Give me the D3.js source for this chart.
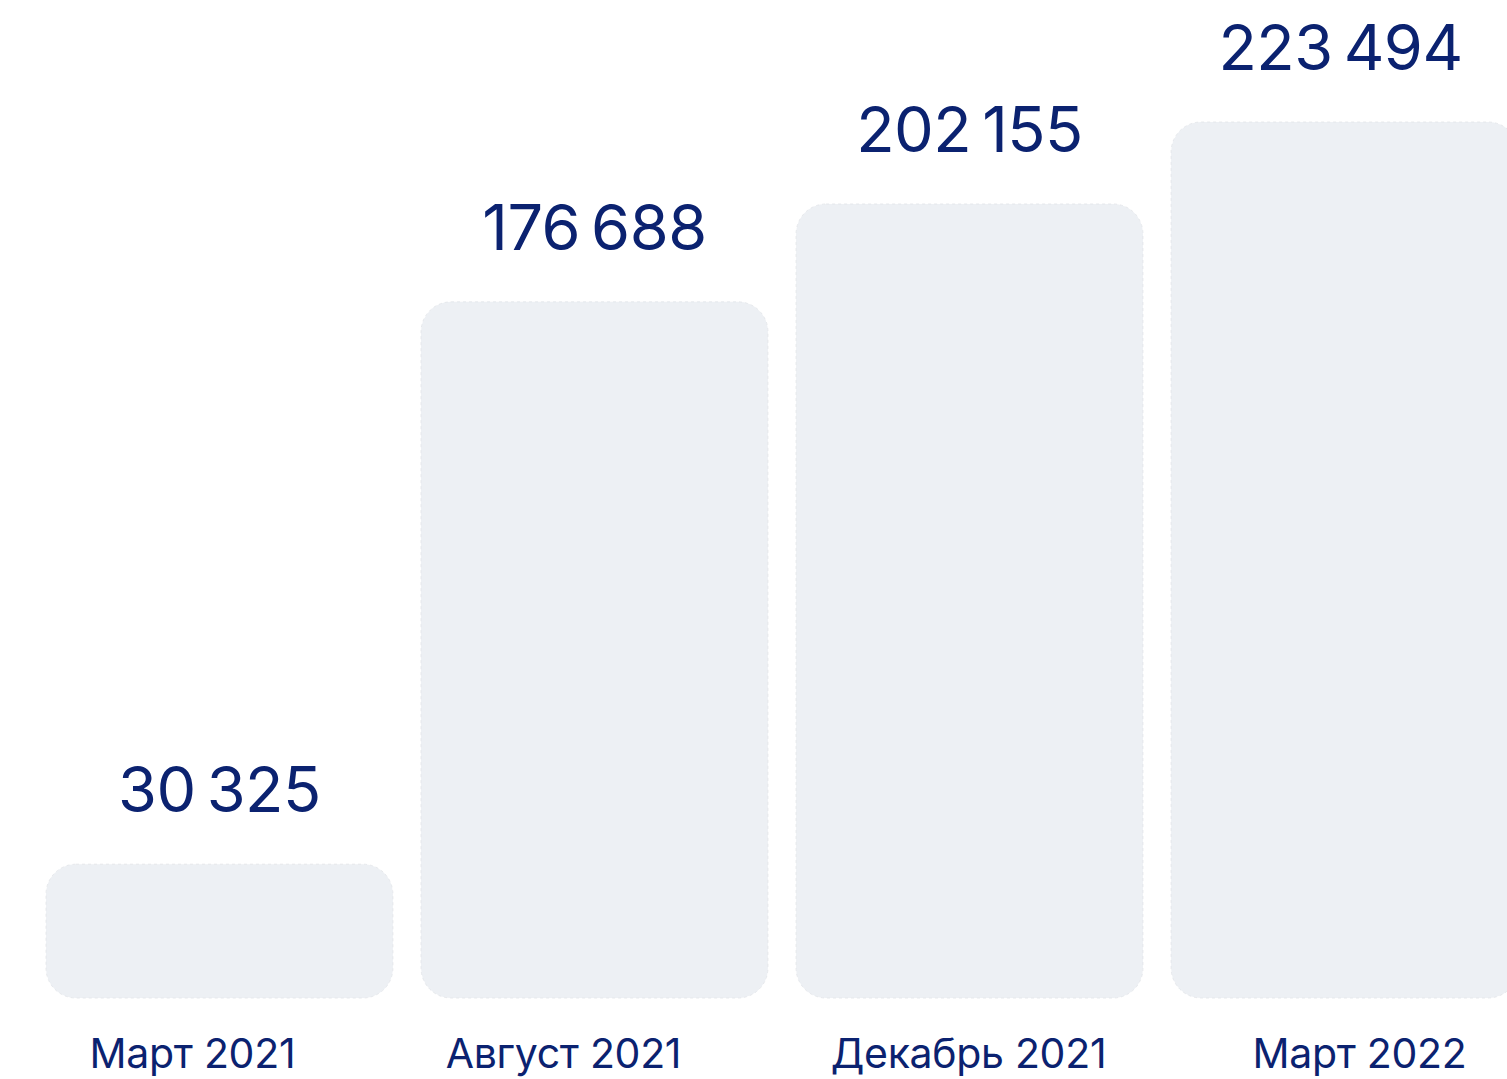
<!DOCTYPE html>
<html>
<head>
<meta charset="utf-8">
<script src="https://cdn.jsdelivr.net/npm/d3@7"></script>
<style>
  html, body { margin: 0; padding: 0; background: #fff; }
  svg { display: block; }
</style>
</head>
<body>
<div id="chart"></div>
<script>
// data
const categories = ["Март 2021", "Август 2021", "Декабрь 2021", "Март 2022"];
const values = [30325, 176688, 202155, 223494];

// canvas
const width = 1507;
const height = 1079;
const baseY = 998;
const navy = "#0b2270";

// small horizontal nudges for the labels, as in the source image
const labelShift = [-27, -31, -1, 15];
const valueShift = [0, 0, 0, -4];

const svg = d3.select("#chart")
    .append("svg")
    .attr("width", width)
    .attr("height", height);

const xScale = d3.scaleBand()
    .domain(categories)
    .range([46, 1518])
    .paddingInner(0.075)
    .paddingOuter(0);

const yScale = d3.scaleLinear()
    .domain([-4500, d3.max(values)])
    .range([baseY, 122]);

const fmt = v => d3.format(",")(v).replace(/,/g, "\u2009");

const data = categories.map((c, i) => ({
    cat: c, val: values[i], shift: labelShift[i], vshift: valueShift[i]
}));

// bars
svg.selectAll("rect.bar")
    .data(data)
    .enter()
    .append("rect")
    .attr("class", "bar")
    .attr("x", d => xScale(d.cat))
    .attr("y", d => yScale(d.val))
    .attr("width", xScale.bandwidth())
    .attr("height", d => baseY - yScale(d.val))
    .attr("rx", 30)
    .attr("ry", 30)
    .attr("fill", "#edf0f4")
    .attr("stroke", "#e2e4e8")
    .attr("stroke-width", 0.8)
    .attr("stroke-dasharray", "3,3");

// value labels
svg.selectAll("text.val")
    .data(data)
    .enter()
    .append("text")
    .attr("class", "val")
    .attr("x", d => xScale(d.cat) + xScale.bandwidth() / 2 + d.vshift)
    .attr("y", d => yScale(d.val) - 52)
    .attr("text-anchor", "middle")
    .attr("font-family", "Inter, 'Noto Sans', sans-serif")
    .attr("font-size", 63)
    .attr("letter-spacing", -0.5)
    .attr("fill", navy)
    .text(d => fmt(d.val));

// category labels
svg.selectAll("text.cat")
    .data(data)
    .enter()
    .append("text")
    .attr("class", "cat")
    .attr("x", d => xScale(d.cat) + xScale.bandwidth() / 2 + d.shift)
    .attr("y", 1068)
    .attr("text-anchor", "middle")
    .attr("font-family", "Inter, 'Noto Sans', sans-serif")
    .attr("font-size", 41)
    .attr("letter-spacing", -0.3)
    .attr("fill", navy)
    .text(d => d.cat);
</script>
</body>
</html>
